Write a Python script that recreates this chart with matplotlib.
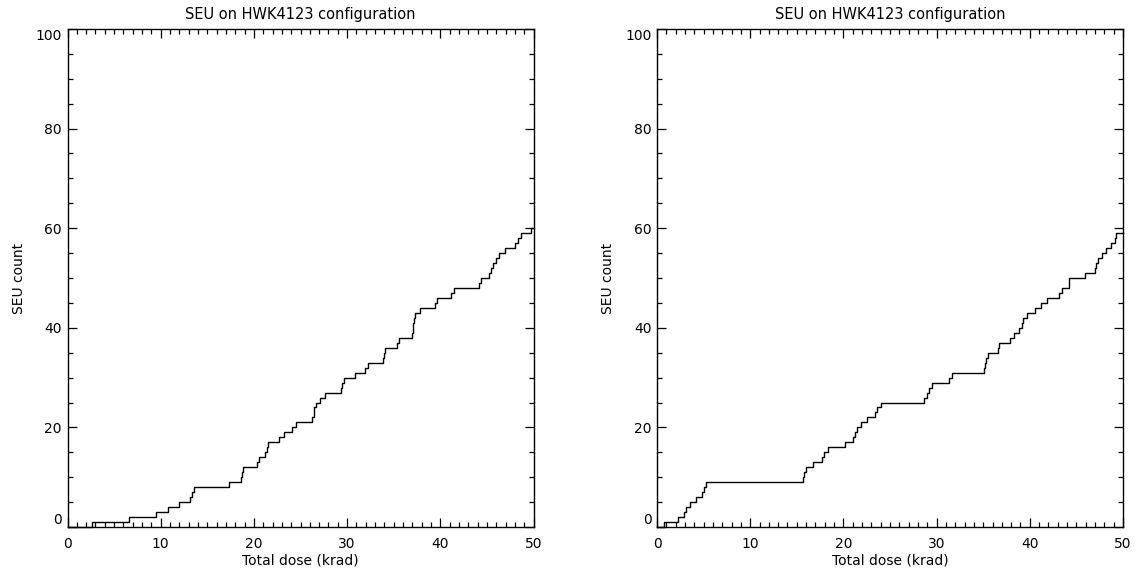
import numpy as np
import matplotlib
matplotlib.use("Agg")
import matplotlib.pyplot as plt
from matplotlib.ticker import MultipleLocator

# Total dose (krad) at which each single-event upset was logged
seu_dose_run1 = [
    2.6, 6.6, 9.5, 10.8, 12.0, 13.1, 13.4, 13.6, 17.3, 18.6,
    18.7, 18.8, 20.3, 20.6, 21.2, 21.4, 21.5, 22.7, 23.2, 24.1,
    24.5, 26.2, 26.4, 26.5, 26.7, 27.1, 27.6, 29.3, 29.5, 29.7,
    30.8, 31.9, 32.2, 33.9, 34.0, 34.05, 35.4, 35.6, 37.0, 37.05,
    37.1, 37.15, 37.25, 37.8, 39.4, 39.65, 41.2, 41.5, 44.15, 44.4,
    45.2, 45.45, 45.7, 46.0, 46.3, 46.9, 48.0, 48.3, 48.7, 49.75,
]
seu_dose_run2 = [
    0.7, 2.3, 2.9, 3.1, 3.5, 4.2, 4.8, 5.0, 5.25, 15.66,
    15.8, 16.0, 16.7, 17.7, 17.9, 18.3, 20.15, 21.0, 21.2, 21.5,
    21.9, 22.5, 23.4, 23.6, 24.0, 28.7, 28.95, 29.2, 29.5, 31.3,
    31.65, 35.05, 35.15, 35.3, 35.5, 36.6, 36.7, 37.9, 38.3, 38.8,
    39.2, 39.3, 39.75, 40.6, 41.2, 41.8, 43.1, 43.5, 44.2, 44.25,
    45.9, 47.0, 47.15, 47.3, 47.7, 48.2, 48.75, 49.15, 49.3,
]

dose_range = (0, 50)
count_range = (0, 100)
x_ticks = [0, 10, 20, 30, 40, 50]
y_ticks = [0, 20, 40, 60, 80, 100]
title = "SEU on HWK4123 configuration"
x_label = "Total dose (krad)"
y_label = "SEU count"

W, H = 1140, 576
fig = plt.figure(figsize=(W / 100, H / 100), dpi=100)
plt.rcParams["font.family"] = ["DejaVu Sans"]


def px_axes(x0, x1, ytop, ybot):
    return fig.add_axes([x0 / W, (H - ybot) / H, (x1 - x0) / W, (ybot - ytop) / H])


def draw_panel(ax, doses):
    doses = np.asarray(doses)
    xs = np.concatenate([[dose_range[0]], doses, [dose_range[1]]])
    counts = np.arange(len(doses) + 1)
    ys = np.concatenate([counts, [counts[-1]]])
    ax.step(xs, ys, where="post", color="black", lw=1.0, clip_on=False)

    ax.set_xlim(*dose_range)
    ax.set_ylim(*count_range)
    ax.set_xticks(x_ticks)
    ax.set_yticks(y_ticks)
    ax.xaxis.set_minor_locator(MultipleLocator(1))
    ax.yaxis.set_minor_locator(MultipleLocator(5))
    ax.tick_params(which="both", direction="in", top=True, right=True,
                   colors="black", width=0.9)
    ax.tick_params(which="major", length=6.7, labelsize=10)
    ax.tick_params(which="minor", length=3.4)
    ax.tick_params(axis="x", which="major", pad=7)
    ax.tick_params(axis="y", which="major", pad=4)
    for s in ax.spines.values():
        s.set_linewidth(1.0)
        s.set_color("black")

    # keep the end labels of the count axis inside the frame
    labels = ax.get_yticklabels()
    labels[0].set_va("bottom")
    labels[-1].set_va("top")

    ax.set_title(title, fontsize=10.5, pad=7)
    ax.set_xlabel(x_label, fontsize=10, labelpad=2)
    ax.set_ylabel(y_label, fontsize=10)
    ax.yaxis.set_label_coords(-0.09, 0.5)


ax1 = px_axes(67.5, 533.5, 29, 527)
ax2 = px_axes(657, 1123, 29, 527)
draw_panel(ax1, seu_dose_run1)
draw_panel(ax2, seu_dose_run2)

fig.savefig("out.png", dpi=100, facecolor="white")
